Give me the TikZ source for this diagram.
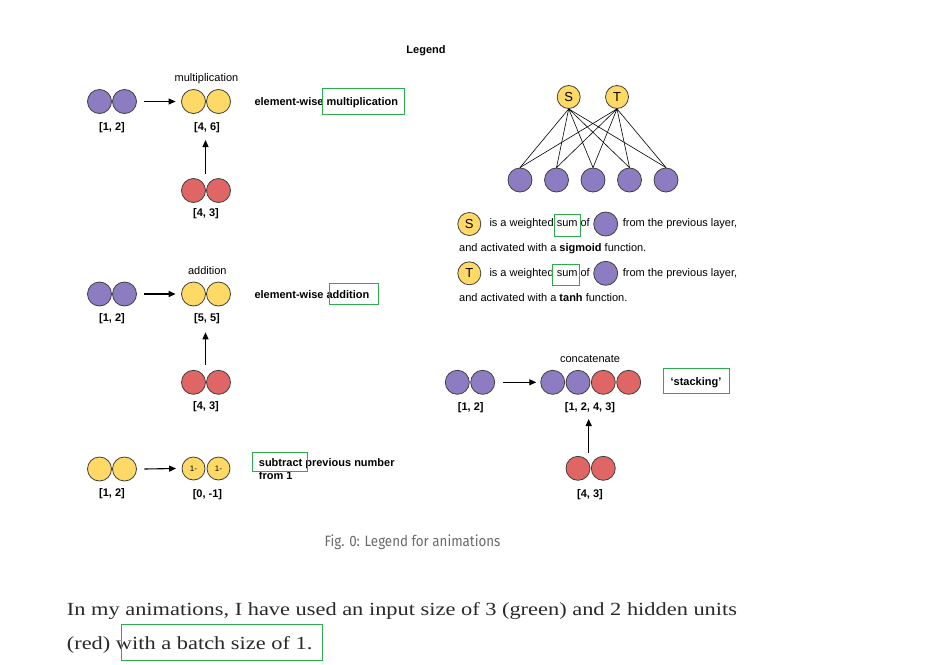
\documentclass[tikz,border=0pt]{standalone}
\usepackage{fontspec}
\setmainfont{Liberation Sans}
\newfontfamily\parafont[FakeStretch=1.21]{Liberation Serif}
\newfontfamily\capfont[FakeStretch=0.89]{Fira Sans}
\usetikzlibrary{arrows.meta}
\definecolor{purp}{HTML}{8E7CC3}
\definecolor{yel}{HTML}{FFD966}
\definecolor{redc}{HTML}{E06666}
\definecolor{grn}{HTML}{2EAA4F}
\definecolor{capgray}{HTML}{6B6B6B}
\definecolor{paratext}{HTML}{292929}
\begin{document}
\begin{tikzpicture}[x=1pt,y=-1pt,
  dot/.style={circle,minimum size=24pt,inner sep=0pt,draw=black!75,line width=0.8pt},
  pd/.style={dot,fill=purp}, yd/.style={dot,fill=yel}, rd/.style={dot,fill=redc},
  lbl/.style={font=\bfseries\fontsize{11}{13}\selectfont,inner sep=0pt},
  note/.style={font=\fontsize{11}{13}\selectfont,inner sep=0pt},
  arr/.style={-{Triangle[length=7pt,width=6pt]},line width=1.1pt},
  gbox/.style={draw=grn,line width=1pt},
  link/.style={line width=0.6pt}]
\fill[white] (0,0) rectangle (931,664);
\useasboundingbox (0,0) rectangle (931,664);

\node[lbl] (legend) at (426,50.7) {Legend};

% ---- multiplication
\node[pd] (a1) at (99.5,101.5) {};
\node[pd] (a2) at (124.5,101.5) {};
\node[yd] (m1) at (193.5,101.5) {};
\node[yd] (m2) at (218.5,101.5) {};
\node[rd] (r1) at (193.5,190.5) {};
\node[rd] (r2) at (218.5,190.5) {};
\node[note] (mlab) at (206.5,79) {multiplication};
\node[lbl] (a12) at (112,128) {[1, 2]};
\node[lbl] (m46) at (207,128) {[4, 6]};
\node[lbl] (r43) at (206,213.5) {[4, 3]};
\draw[arr] ([xshift=7.5pt]a2.east) -- ([xshift=-5.5pt]m1.west);
\coordinate (u1s) at (205.5,173.5);
\coordinate (u1e) at (205.5,140);
\draw[arr] (u1s) -- (u1e);
\node[lbl,anchor=west] (ewm) at (254.3,102.3) {element-wise multiplication};
\draw[gbox] (322.3,88.3) rectangle (404.3,114.3);

% ---- addition
\node[pd] (b1) at (99.5,294) {};
\node[pd] (b2) at (124.5,294) {};
\node[yd] (s1) at (193.5,294) {};
\node[yd] (s2) at (218.5,294) {};
\node[rd] (q1) at (193.5,382.3) {};
\node[rd] (q2) at (218.5,382.3) {};
\node[note] (alab) at (207.3,270.7) {addition};
\node[lbl] (b12) at (112,319) {[1, 2]};
\node[lbl] (s55) at (207,319) {[5, 5]};
\node[lbl] (q43) at (206,406.7) {[4, 3]};
\draw[arr] ([xshift=7.5pt]b2.east) -- ([xshift=-5.5pt]s1.west);
\coordinate (u2s) at (205.5,365);
\coordinate (u2e) at (205.5,332.3);
\draw[arr] (u2s) -- (u2e);
\node[lbl,anchor=west] (ewa) at (254.3,294.7) {element-wise addition};
\draw[gbox] (329.3,283.3) rectangle (378.7,304.7);

% ---- subtract
\node[yd] (c1) at (99.5,469) {};
\node[yd] (c2) at (124.5,469) {};
\node[yd,minimum size=23pt,font=\fontsize{8}{9}\selectfont] (d1) at (193.5,468.5) {1-};
\node[yd,minimum size=23pt,font=\fontsize{8}{9}\selectfont] (d2) at (218.5,468.5) {1-};
\node[lbl] (c12) at (112,494) {[1, 2]};
\node[lbl] (d01) at (207.5,494.3) {[0, -1]};
\draw[arr] ([xshift=7.5pt]c2.east) -- ([xshift=-5.5pt]d1.west);
\node[lbl,anchor=west,align=left] (sub) at (258.7,469.2) {subtract previous number\\from 1};
\draw[gbox] (252.3,452.3) rectangle (307.3,471.7);

% ---- network
\node[yd,minimum size=23pt,font=\fontsize{13}{15}\selectfont] (S) at (568.7,97) {S};
\node[yd,minimum size=23pt,font=\fontsize{13}{15}\selectfont] (T) at (617,97) {T};
\foreach \i/\x in {1/520,2/556.5,3/593,4/629.5,5/666} {
  \node[pd] (n\i) at (\x,180) {};
}
\foreach \i in {1,...,5} {
  \draw[link] (S.south) -- (n\i.north);
  \draw[link] (T.south) -- (n\i.north);
}

% ---- explanation
\node[yd,minimum size=23pt,font=\fontsize{13}{15}\selectfont] (Sk) at (469.3,224) {S};
\node[note,anchor=west] (sw) at (489.3,224) {is a weighted sum of};
\node[pd] (sp) at (605.7,224) {};
\node[note,anchor=west] (sf) at (622.7,224) {from the previous layer,};
\draw[gbox] (554.3,214.3) rectangle (580.7,236.3);
\node[note,anchor=west] (sa) at (459,248.3) {and activated with a \textbf{sigmoid} function.};

\node[yd,minimum size=23pt,font=\fontsize{13}{15}\selectfont] (Tk) at (469.3,273.3) {T};
\node[note,anchor=west] (tw) at (489.3,273.3) {is a weighted sum of};
\node[pd] (tp) at (605.7,273.3) {};
\node[note,anchor=west] (tf) at (622.7,273.3) {from the previous layer,};
\draw[gbox] (552.3,264) rectangle (579.3,285);
\node[note,anchor=west] (ta) at (459,297.3) {and activated with a \textbf{tanh} function.};

% ---- concatenate
\node[pd] (e1) at (457.3,382.3) {};
\node[pd] (e2) at (482.7,382.3) {};
\node[pd] (f1) at (552.7,382.3) {};
\node[pd] (f2) at (578,382.3) {};
\node[rd] (f3) at (603.3,382.3) {};
\node[rd] (f4) at (628.7,382.3) {};
\node[rd] (g1) at (578,468.3) {};
\node[rd] (g2) at (603.3,468.3) {};
\node[note] (clab) at (590,359) {concatenate};
\node[lbl] (e12) at (470.7,407.7) {[1, 2]};
\node[lbl] (f1243) at (590,407.7) {[1, 2, 4, 3]};
\node[lbl] (g43) at (590,494.3) {[4, 3]};
\draw[arr] ([xshift=8pt]e2.east) -- ([xshift=-4pt]f1.west);
\coordinate (u3s) at (588.7,452.7);
\coordinate (u3e) at (588.7,419);
\draw[arr] (u3s) -- (u3e);
\node[lbl] (stk) at (696,382.7) {‘stacking’};
\draw[gbox] (663.3,368.7) rectangle (729.3,393.3);

% ---- caption and paragraph
\node[font=\capfont\fontsize{15}{18}\selectfont,text=capgray,inner sep=0pt] (cap) at (412.5,542) {Fig. 0: Legend for animations};
\node[font=\parafont\fontsize{18.5}{22}\selectfont,text=paratext,anchor=base west,inner sep=0pt] (p1) at (66.7,615.7) {In my animations, I have used an input size of 3 (green) and 2 hidden units};
\node[font=\parafont\fontsize{18.5}{22}\selectfont,text=paratext,anchor=base west,inner sep=0pt] (p2) at (66.7,649.3) {(red) with a batch size of 1.};
\draw[gbox] (121,624.3) rectangle (322,660);
\end{tikzpicture}
\end{document}
